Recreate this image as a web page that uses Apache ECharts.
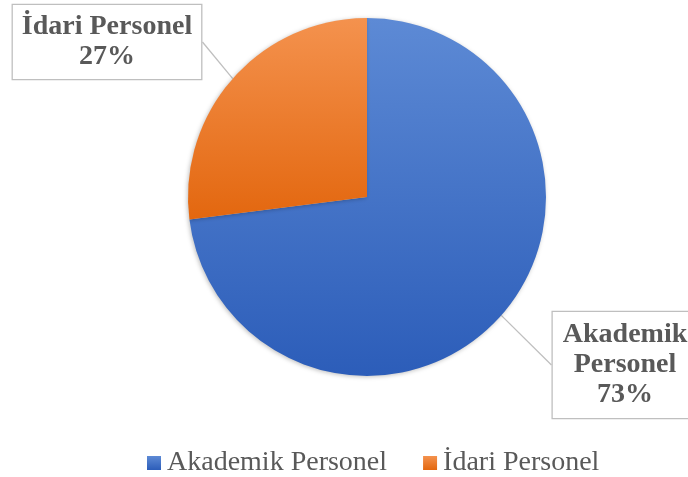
<!DOCTYPE html>
<html>
<head>
<meta charset="utf-8">
<script src="https://cdn.jsdelivr.net/npm/echarts@6/dist/echarts.min.js"></script>
<style>html,body{margin:0;padding:0;background:#fff}#c{width:688px;height:477px}</style>
</head>
<body>
<div id="c"></div>
<script>
const categories = ['Akademik Personel', 'İdari Personel'];
const values = [73, 27];
const labelTexts = ['Akademik\nPersonel\n73%', 'İdari Personel\n27%'];

const grad = (top, bottom) => ({
  type: 'linear', x: 0, y: 0, x2: 0, y2: 1,
  colorStops: [{offset: 0, color: top}, {offset: 1, color: bottom}]
});
const colors = [grad('#5D8AD5', '#2C5DB9'), grad('#F4924E', '#E3670F')];
const legendColors = ['#4472C4', '#ED7D31'];
const labelPos = [[625, 365], [107, 42]];
const labelPad = [[8, 10], [7, 9]];

const chart = echarts.init(document.getElementById('c'), null, {renderer: 'canvas'});
chart.setOption({
  animation: false,
  color: legendColors,
  legend: {
    top: 444,
    left: 142,
    itemWidth: 14,
    itemHeight: 14,
    itemGap: 36,
    icon: 'rect',
    textStyle: {fontFamily: 'Liberation Serif', fontSize: 28, color: '#595959', padding: [0, 0, 0, 1]},
    data: categories
  },
  series: [{
    type: 'pie',
    center: [367, 197],
    radius: 179,
    startAngle: 90,
    clockwise: true,
    itemStyle: {shadowBlur: 4, shadowColor: 'rgba(0,0,0,0.25)', shadowOffsetX: -1, shadowOffsetY: 1},
    labelLine: {show: true, length: 0, length2: 0, smooth: false, lineStyle: {color: '#BFBFBF', width: 1.3}},
    labelLayout: (p) => ({
      x: labelPos[p.dataIndex][0], y: labelPos[p.dataIndex][1],
      align: 'center', verticalAlign: 'middle', moveOverlap: false
    }),
    data: categories.map((n, i) => ({
      name: n,
      value: values[i],
      itemStyle: {color: colors[i]},
      label: {
        show: true,
        formatter: labelTexts[i],
        fontFamily: 'Liberation Serif',
        fontWeight: 'bold',
        fontSize: 28,
        lineHeight: 30,
        color: '#595959',
        align: 'center',
        backgroundColor: '#fff',
        borderColor: '#BFBFBF',
        borderWidth: 1.3,
        padding: labelPad[i]
      }
    }))
  }]
});
</script>
</body>
</html>
